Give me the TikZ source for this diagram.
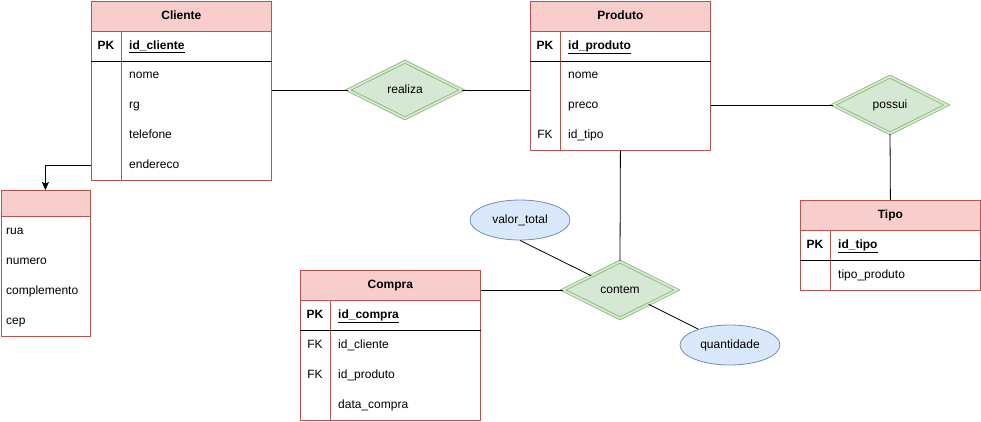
\documentclass[tikz,border=0pt]{standalone}
\usepackage{fontspec}
\setmainfont{Liberation Sans}
\usetikzlibrary{arrows.meta}
\usetikzlibrary{calc,shapes.geometric}

\definecolor{tabhead}{HTML}{F8CECC}
\definecolor{tabborder}{HTML}{B85450}
\definecolor{relfill}{HTML}{D5E8D4}
\definecolor{relborder}{HTML}{82B366}
\definecolor{attfill}{HTML}{DAE8FC}
\definecolor{attborder}{HTML}{6C8EBF}

\tikzset{
	txt/.style={text height=8.6pt, text depth=2.4pt},
	tbl/.style={draw=tabborder, line width=0.8pt, anchor=north west, minimum width=180pt, inner sep=0pt},
	hdr/.style={draw=tabborder, fill=tabhead, line width=0.8pt, anchor=north, minimum width=180pt, minimum height=30pt, inner sep=0pt, font=\bfseries, txt},
	div/.style={draw=tabborder, line width=0.8pt},
	keyline/.style={draw=black, line width=0.8pt},
	key/.style={font=\bfseries, inner sep=0pt, txt},
	fkey/.style={inner sep=0pt, txt},
	attr/.style={anchor=west, inner sep=0pt, txt},
	rel/.style={diamond, draw=relborder, fill=relfill, double=relfill, double distance=2pt, line width=0.7pt, minimum width=114pt, minimum height=57pt, inner sep=0pt, txt},
	atrib/.style={ellipse, draw=attborder, fill=attfill, line width=0.8pt, minimum width=100pt, minimum height=40pt, inner sep=0pt, txt},
	link/.style={draw=black, line width=0.8pt},
	arr/.style={-{Stealth[length=8pt,width=7pt,inset=1.5pt]}, line width=0.8pt}
}

\begin{document}
\fontsize{12pt}{14pt}\selectfont
\begin{tikzpicture}[x=1pt,y=-1pt]
	\useasboundingbox (0,0) rectangle (981,422);
	
	% Cliente
	\node[tbl, minimum height=179pt] (cliente) at (91,1) {};
	\node[hdr] (cliente-h) at (cliente.north) {Cliente};
	\draw[div] ([xshift=30pt]cliente-h.south west) -- ([xshift=30pt]cliente.south west);
	\draw[keyline] ([yshift=-30pt]cliente-h.south west) -- ([yshift=-30pt]cliente-h.south east);
	\node[key] (cliente-pk) at (106,46) {PK};
	\node[attr, font=\bfseries] (cliente-id) at (129,46) {\underline{id\_cliente}};
	\foreach \t [count=\i] in {nome,rg,telefone,endereco}
		\node[attr] (cliente-\i) at (129,{45+30*\i}) {\t};
	
	% endereco
	\node[tbl, minimum width=89pt, minimum height=146pt] (addr) at (0.5,190) {};
	\node[hdr, minimum width=89pt, minimum height=26pt] (addr-h) at (addr.north) {};
	\foreach \t [count=\i] in {rua,numero,complemento,cep}
		\node[attr] (addr-\i) at (6,{201+30*\i}) {\t};
	
	% Produto
	\node[tbl, minimum height=149pt] (produto) at (530,1) {};
	\node[hdr] (produto-h) at (produto.north) {Produto};
	\draw[div] ([xshift=30pt]produto-h.south west) -- ([xshift=30pt]produto.south west);
	\draw[keyline] ([yshift=-30pt]produto-h.south west) -- ([yshift=-30pt]produto-h.south east);
	\node[key] (produto-pk) at (545,46) {PK};
	\node[attr, font=\bfseries] (produto-id) at (568,46) {\underline{id\_produto}};
	\foreach \t [count=\i] in {nome,preco,id\_tipo}
		\node[attr] (produto-\i) at (568,{45+30*\i}) {\t};
	\node[fkey] (produto-fk) at (545,135) {FK};
	
	% Tipo
	\node[tbl, minimum height=90pt] (tipo) at (800,200) {};
	\node[hdr] (tipo-h) at (tipo.north) {Tipo};
	\draw[div] ([xshift=30pt]tipo-h.south west) -- ([xshift=30pt]tipo.south west);
	\draw[keyline] ([yshift=-30pt]tipo-h.south west) -- ([yshift=-30pt]tipo-h.south east);
	\node[key] (tipo-pk) at (815,245) {PK};
	\node[attr, font=\bfseries] (tipo-id) at (838,245) {\underline{id\_tipo}};
	\node[attr] (tipo-1) at (838,275) {tipo\_produto};
	
	% Compra
	\node[tbl, minimum height=150pt] (compra) at (300,270) {};
	\node[hdr] (compra-h) at (compra.north) {Compra};
	\draw[div] ([xshift=30pt]compra-h.south west) -- ([xshift=30pt]compra.south west);
	\draw[keyline] ([yshift=-30pt]compra-h.south west) -- ([yshift=-30pt]compra-h.south east);
	\node[key] (compra-pk) at (315,315) {PK};
	\node[attr, font=\bfseries] (compra-id) at (338,315) {\underline{id\_compra}};
	\foreach \t [count=\i] in {id\_cliente,id\_produto,data\_compra}
		\node[attr] (compra-\i) at (338,{315+30*\i}) {\t};
	\node[fkey] (compra-fk1) at (315,345) {FK};
	\node[fkey] (compra-fk2) at (315,375) {FK};
	
	% relacionamentos e atributos
	\node[rel] (realiza) at (405,90) {realiza};
	\node[rel] (possui) at (890,105) {possui};
	\node[rel] (contem) at (620,290) {contem};
	\node[atrib] (valor) at (520,220) {valor\_total};
	\node[atrib] (qtd) at (730,345) {quantidade};
	
	% ligacoes
	\draw[arr] (cliente-4 -| cliente.west) -| (addr.north);
	\draw[link] (realiza.west) -- (realiza.west -| cliente.east);
	\draw[link] (realiza.east) -- (realiza.east -| produto.west);
	\draw[link] (possui.west) -- (possui.west -| produto.east);
	\draw[link] (possui.south) -- (tipo.north);
	\draw[link] (contem.north) -- (produto.south);
	\draw[link] (contem.west) -- (contem.west -| compra.east);
	\draw[link] (valor.south) -- (contem);
	\draw[link] (contem) -- (qtd);
\end{tikzpicture}
\end{document}
